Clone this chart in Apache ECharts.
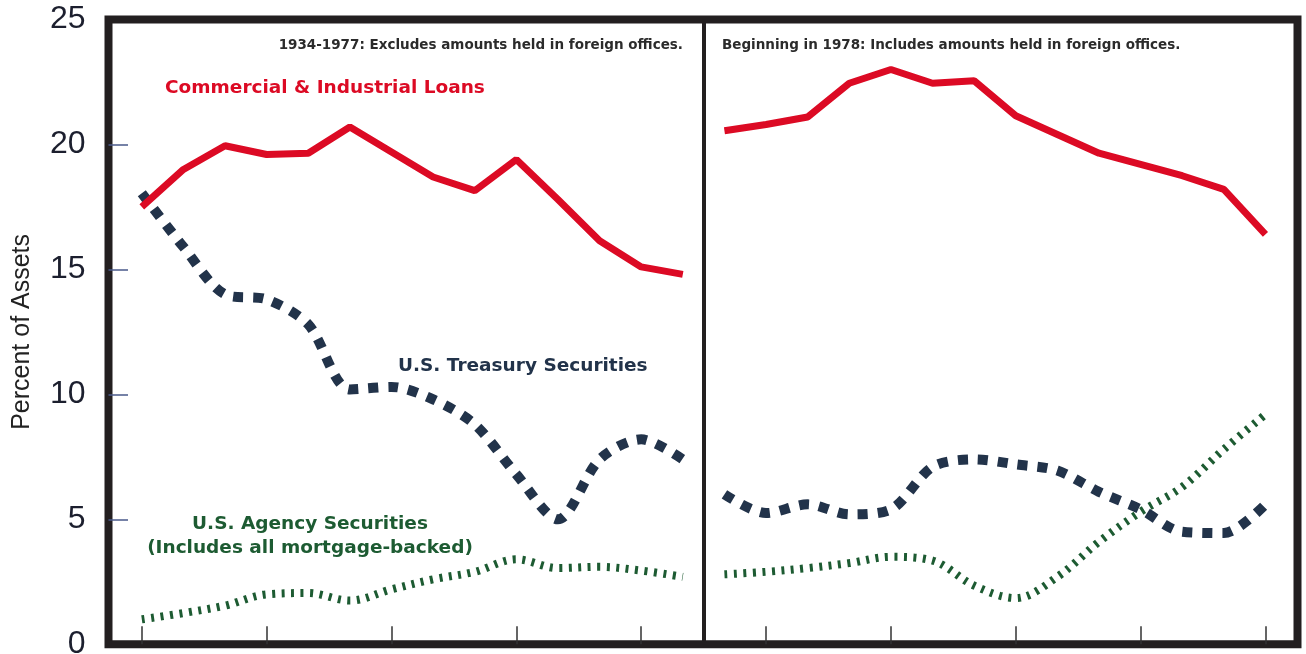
<!DOCTYPE html>
<html>
<head>
<meta charset="utf-8">
<title>Bank assets</title>
<script src="https://cdn.jsdelivr.net/npm/echarts@6/dist/echarts.min.js"></script>
<style>
  html, body { margin: 0; padding: 0; background: #fff; }
  #chart { width: 1306px; height: 654px; }
</style>
</head>
<body>
<div id="chart"></div>
<script>
// years per panel
const yearsBefore = [1964, 1965, 1966, 1967, 1968, 1969, 1970, 1971, 1972, 1973, 1974, 1975, 1976, 1977]
const yearsAfter = [1978, 1979, 1980, 1981, 1982, 1983, 1984, 1985, 1986, 1987, 1988, 1989, 1990, 1991]
const breakYear = 1977.5
const tickYears = [1964, 1967, 1970, 1973, 1976, 1979, 1982, 1985, 1988, 1991]
const tickPercents = [5, 10, 15, 20]

// percent of assets
const loansBefore = [17.5, 19.0, 19.95, 19.6, 19.65, 20.7, 19.7, 18.7, 18.15, 19.4, 17.8, 16.15, 15.1, 14.8]
const loansAfter = [20.55, 20.8, 21.1, 22.45, 23.0, 22.45, 22.55, 21.15, 20.4, 19.65, 19.2, 18.75, 18.2, 16.4]
const treasuryBefore = [18.05, 15.9, 14.0, 13.8, 12.8, 10.2, 10.3, 9.8, 8.8, 6.8, 5.0, 7.4, 8.2, 7.4]
const treasuryAfter = [6.0, 5.25, 5.6, 5.2, 5.4, 7.1, 7.4, 7.2, 6.95, 6.1, 5.4, 4.5, 4.45, 5.6]
const agencyBefore = [1.0, 1.25, 1.55, 2.0, 2.05, 1.75, 2.2, 2.6, 2.9, 3.4, 3.05, 3.1, 2.95, 2.7]
const agencyAfter = [2.8, 2.9, 3.05, 3.25, 3.5, 3.35, 2.35, 1.85, 2.7, 4.1, 5.3, 6.3, 7.8, 9.2]

const pair = (years, vals) => years.map((y, i) => [y, vals[i]])

const chart = echarts.init(document.getElementById('chart'))

const red = '#dc0a24'
const navy = '#22334a'
const green = '#1d5b32'
const font = '"Liberation Sans", Arial, Helvetica, sans-serif'
const noteFont = '"DejaVu Sans", Verdana, sans-serif'

const loanStyle = { color: red, width: 7 }
const treasuryStyle = { color: navy, width: 10, type: [10, 10] }
const agencyStyle = { color: green, width: 8, type: [3, 6.5] }

const lineSeries = (data, style, smooth) => ({
  type: 'line',
  data: data,
  symbol: 'none',
  smooth: smooth,
  lineStyle: style,
  silent: true
})

const option = {
  backgroundColor: '#fff',
  animation: false,
  grid: {
    left: 108.5,
    right: 8.5,
    top: 19.5,
    bottom: 9.7,
    outerBoundsMode: 'none',
    containLabel: false,
    show: true,
    borderColor: '#231f20',
    borderWidth: 8,
    backgroundColor: 'transparent'
  },
  xAxis: {
    type: 'value',
    min: 1963.2,
    max: 1991.77,
    axisLine: { show: false },
    splitLine: { show: false },
    axisLabel: { show: false },
    axisTick: {
      show: true,
      inside: true,
      length: 18,
      customValues: tickYears,
      lineStyle: { color: '#333', width: 1.5 }
    }
  },
  yAxis: {
    type: 'value',
    min: 0,
    max: 25,
    interval: 5,
    name: 'Percent of Assets',
    nameLocation: 'middle',
    nameGap: 74,
    nameTextStyle: { fontFamily: font, fontSize: 25, color: '#222' },
    axisLine: { show: false },
    splitLine: { show: false },
    axisTick: {
      show: true,
      inside: true,
      length: 19.5,
      customValues: tickPercents,
      lineStyle: { color: '#4a5a8a', width: 1.5 }
    },
    axisLabel: {
      margin: 23,
      fontFamily: font,
      fontSize: 32,
      color: '#1c1f2e'
    }
  },
  series: [
    lineSeries(pair(yearsBefore, agencyBefore), agencyStyle, 0.35),
    lineSeries(pair(yearsAfter, agencyAfter), agencyStyle, 0.35),
    lineSeries(pair(yearsBefore, treasuryBefore), treasuryStyle, 0.3),
    lineSeries(pair(yearsAfter, treasuryAfter), treasuryStyle, 0.3),
    lineSeries(pair(yearsBefore, loansBefore), loanStyle, false),
    Object.assign(lineSeries(pair(yearsAfter, loansAfter), loanStyle, false), {
      markLine: {
        silent: true,
        symbol: 'none',
        label: { show: false },
        lineStyle: { color: '#231f20', width: 4, type: 'solid' },
        data: [{ xAxis: breakYear }]
      }
    })
  ],
  graphic: [
    {
      type: 'text', right: 1306 - 683, top: 38,
      style: { text: '1934-1977: Excludes amounts held in foreign offices.', font: 'bold 13.5px ' + noteFont, fill: '#2b2b2b' }
    },
    {
      type: 'text', left: 722, top: 38,
      style: { text: 'Beginning in 1978: Includes amounts held in foreign offices.', font: 'bold 13.5px ' + noteFont, fill: '#2b2b2b' }
    },
    {
      type: 'text', left: 165, top: 79,
      style: { text: 'Commercial & Industrial Loans', font: 'bold 18.5px ' + noteFont, fill: red }
    },
    {
      type: 'text', left: 398, top: 357,
      style: { text: 'U.S. Treasury Securities', font: 'bold 18.5px ' + noteFont, fill: navy }
    },
    {
      type: 'text', x: 310, y: 512,
      style: {
        text: 'U.S. Agency Securities\n(Includes all mortgage-backed)',
        font: 'bold 18.5px ' + noteFont, fill: green, align: 'center', lineHeight: 24
      }
    }
  ]
}

chart.setOption(option)
window.addEventListener('resize', () => chart.resize())
</script>
</body>
</html>
